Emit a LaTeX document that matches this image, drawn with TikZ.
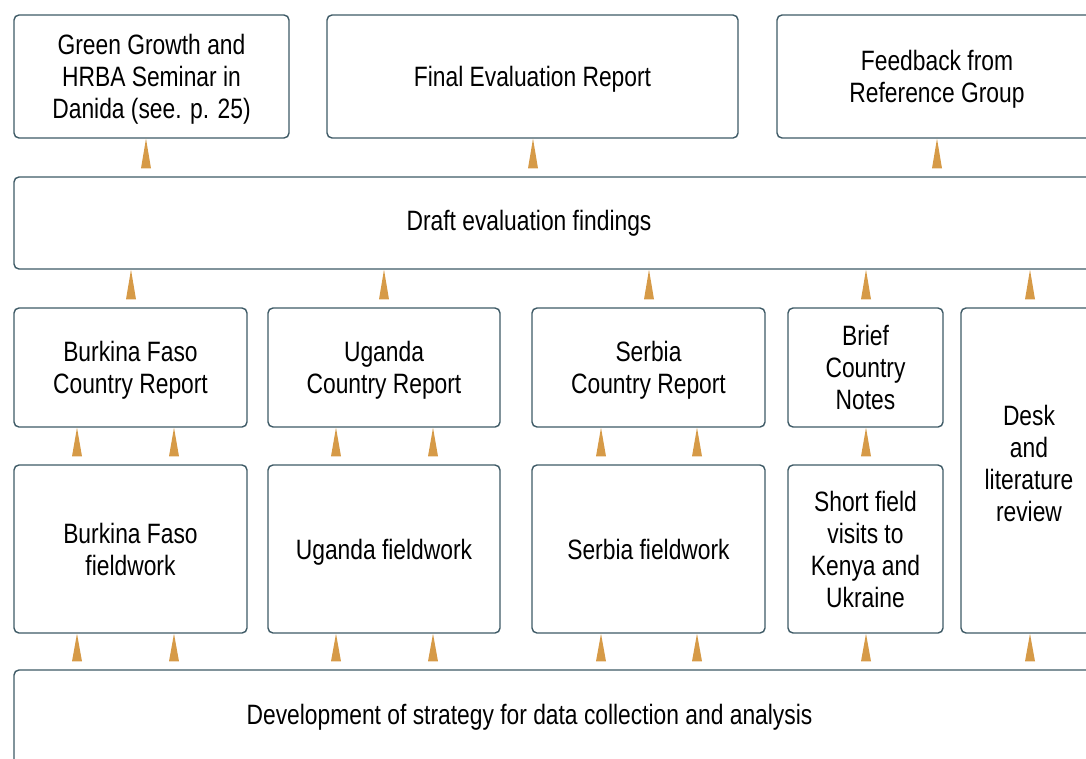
\documentclass[tikz,border=0pt]{standalone}
\usepackage{fontspec}
\setmainfont{Liberation Sans}[FakeStretch=0.815]

\definecolor{boxedge}{HTML}{3E5A66}
\definecolor{riser}{HTML}{D69A47}

\tikzset{
  box/.style={draw=boxedge, line width=1.4pt, rounded corners=5pt, fill=white,
    align=center, inner sep=0pt, text depth=0pt, font=\fontsize{28}{32}\selectfont},
  caption/.style={align=center, inner sep=0pt, font=\fontsize{28}{32}\selectfont},
}

% golden wedge pointing up from the lower box to the upper one
\newcommand{\lift}[3]{%
  \fill[riser] (#1,0 |- #2.north) ++(-5,-8) -- ++(10,0) -- (#1,0 |- #3.south) -- cycle;}

\begin{document}
\begin{tikzpicture}[x=1pt,y=-1pt]
  \path[use as bounding box, clip] (0,0) rectangle (1086,758);

  % Top row
  \node[box, minimum width=275, minimum height=123] (seminar) at (151.5,76.5)
    {Green Growth and\\HRBA Seminar in\\Danida (see. p. 25)};
  \node[box, minimum width=411, minimum height=123] (final) at (532.5,76.5)
    {Final Evaluation Report};
  \node[box, minimum width=320, minimum height=123] (feedback) at (937,76.5)
    {Feedback from\\Reference Group};

  % Draft findings
  \node[box, minimum width=1096, minimum height=92] (draft) at (562,223) {};
  \node[caption] (drafttxt) at (529,223) {Draft evaluation findings};

  % Country reports
  \node[box, minimum width=233, minimum height=119] (bfrep) at (130.5,367.5)
    {Burkina Faso\\Country Report};
  \node[box, minimum width=232, minimum height=119] (ugrep) at (384,367.5)
    {Uganda\\Country Report};
  \node[box, minimum width=233, minimum height=119] (srrep) at (648.5,367.5)
    {Serbia\\Country Report};
  \node[box, minimum width=155, minimum height=119] (brief) at (865.5,367.5)
    {Brief\\Country\\Notes};
  \node[box, minimum width=136, minimum height=325] (desk) at (1029,470.5) {};
  \node[caption] (desktxt) at (1029,463) {Desk\\and\\literature\\review};

  % Fieldwork
  \node[box, minimum width=233, minimum height=168] (bfwork) at (130.5,549)
    {Burkina Faso\\fieldwork};
  \node[box, minimum width=232, minimum height=168] (ugwork) at (384,549)
    {Uganda fieldwork};
  \node[box, minimum width=233, minimum height=168] (srwork) at (648.5,549)
    {Serbia fieldwork};
  \node[box, minimum width=155, minimum height=168] (short) at (865.5,549)
    {Short field\\visits to\\Kenya and\\Ukraine};

  % Strategy
  \node[box, minimum width=1096, minimum height=110] (strategy) at (562,725) {};
  \node[caption] (strategytxt) at (529.5,717)
    {Development of strategy for data collection and analysis};

  % Wedges
  \foreach \x/\lo/\up in {146/draft/seminar, 533/draft/final, 937/draft/feedback,
      131/bfrep/draft, 384/ugrep/draft, 649/srrep/draft, 866/brief/draft, 1030/desk/draft,
      77/bfwork/bfrep, 174/bfwork/bfrep, 336/ugwork/ugrep, 433/ugwork/ugrep,
      601/srwork/srrep, 697/srwork/srrep, 866/short/brief,
      77/strategy/bfwork, 174/strategy/bfwork, 336/strategy/ugwork, 433/strategy/ugwork,
      601/strategy/srwork, 697/strategy/srwork, 866/strategy/short, 1030/strategy/desk}
    \lift{\x}{\lo}{\up};
\end{tikzpicture}
\end{document}
